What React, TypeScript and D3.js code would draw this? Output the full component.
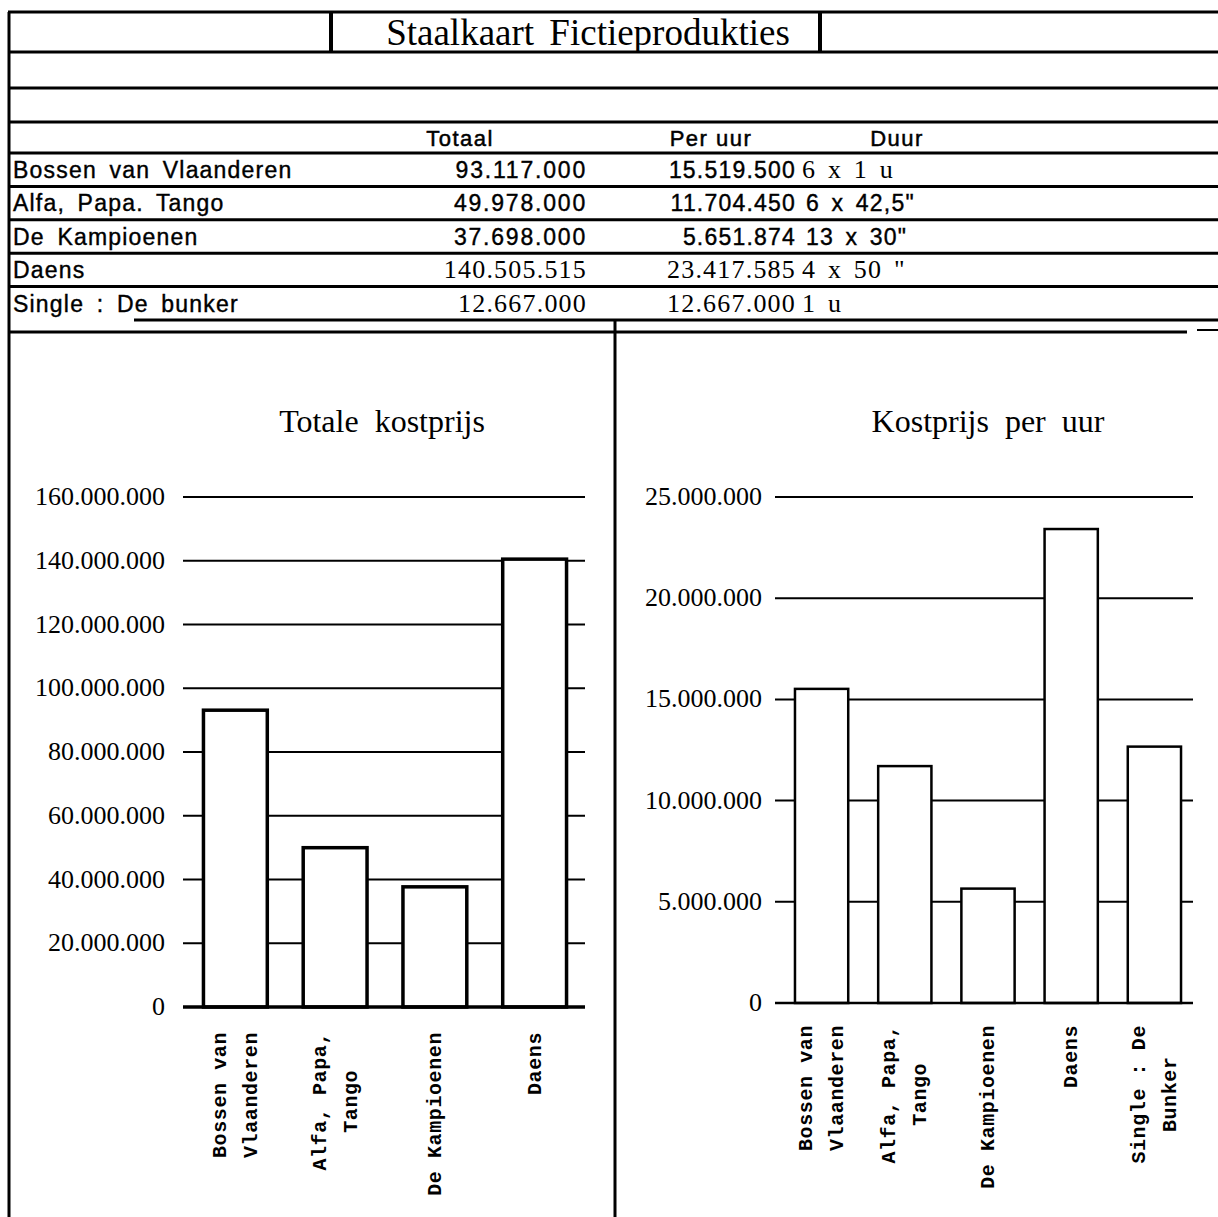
import * as d3 from "d3";
import { useEffect, useRef } from "react";

const W = 1218;
const H = 1217;

// table rows
const producties = ["Bossen van Vlaanderen", "Alfa, Papa. Tango", "De Kampioenen", "Daens", "Single : De bunker"];
const totaal = [93117000, 49978000, 37698000, 140505515, 12667000];
const perUur = [15519500, 11704450, 5651874, 23417585, 12667000];
const duur = ["6 x 1 u", "6 x 42,5\"", "13 x 30\"", "4 x 50 \"", "1 u"];

// chart categories
const totaalCats = ["Bossen van\nVlaanderen", "Alfa, Papa,\nTango", "De Kampioenen", "Daens"];
const totaalVals = [93117000, 49978000, 37698000, 140505515];
const uurCats = ["Bossen van\nVlaanderen", "Alfa, Papa,\nTango", "De Kampioenen", "Daens", "Single : De\nBunker"];
const uurVals = [15519500, 11704450, 5651874, 23417585, 12667000];

const totaalTicks = [0, 20000000, 40000000, 60000000, 80000000, 100000000, 120000000, 140000000, 160000000];
const uurTicks = [0, 5000000, 10000000, 15000000, 20000000, 25000000];

const SERIF = "'Liberation Serif', 'Times New Roman', serif";
const SANS = "'Liberation Sans', Arial, sans-serif";
const MONO = "'Liberation Mono', 'Courier New', monospace";

const fmt = d3
  .formatLocale({ decimal: ",", thousands: ".", grouping: [3], currency: ["", ""] })
  .format(",d");

export default function App() {
  const ref = useRef<SVGSVGElement>(null);

  useEffect(() => {
    if (!ref.current) return;
    const svg = d3.select(ref.current);
    svg.selectAll("*").remove();

    svg.append("rect").attr("width", W).attr("height", H).attr("fill", "#fff");

    const line = (x1: number, y1: number, x2: number, y2: number, w = 3) =>
      svg
        .append("line")
        .attr("x1", x1)
        .attr("y1", y1)
        .attr("x2", x2)
        .attr("y2", y2)
        .attr("stroke", "#000")
        .attr("stroke-width", w);

    // ---- frame + table ----
    line(9, 12, 9, H);
    line(8, 12, W, 12);
    line(331, 12, 331, 52, 4);
    line(820, 12, 820, 52, 4);

    svg
      .append("text")
      .attr("x", 588)
      .attr("y", 45)
      .attr("text-anchor", "middle")
      .style("font-family", SERIF)
      .style("font-size", "37px")
      .style("word-spacing", "6px")
      .text("Staalkaart Fictieprodukties");

    const rowH = 33.4;
    const headY = 153;
    [52, 88, 122, headY].forEach((y) => line(8, y, W, y));
    producties.forEach((_, i) => {
      const y = headY + rowH * (i + 1);
      if (i < producties.length - 1) line(8, y, W, y);
      else line(134, y, W, y);
    });
    line(8, 332, 1187, 332);
    line(1197, 330, W, 330, 2);
    line(615, 320, 615, H);

    const header = [
      { t: "Totaal", x: 460 },
      { t: "Per uur", x: 711 },
      { t: "Duur", x: 897 },
    ];
    svg
      .selectAll(".head")
      .data(header)
      .join("text")
      .attr("x", (d) => d.x)
      .attr("y", headY - 7)
      .attr("text-anchor", "middle")
      .style("font-family", SANS)
      .style("font-size", "22px")
      .style("letter-spacing", "1.5px")
      .style("stroke", "#000")
      .style("stroke-width", "0.5px")
      .text((d) => d.t);

    // rows printed by different machines: first three in sans, last two in serif
    const rowSerif = (i: number) => i >= 3;
    const rowY = (i: number) => headY + rowH * i + 25;
    const sansStyle = (sel: d3.Selection<SVGTextElement, unknown, null, undefined>, ls = 1.8) =>
      sel
        .style("font-family", SANS)
        .style("font-size", "23px")
        .style("letter-spacing", `${ls}px`)
        .style("stroke", "#000")
        .style("stroke-width", "0.4px");
    const serifStyle = (sel: d3.Selection<SVGTextElement, unknown, null, undefined>) =>
      sel.style("font-family", SERIF).style("font-size", "26px").style("letter-spacing", "1.2px");

    const rows = svg.append("g");
    producties.forEach((name, i) => {
      const n = rows
        .append("text")
        .attr("x", 13)
        .attr("y", rowY(i))
        .style("word-spacing", "5px")
        .text(name);
      sansStyle(n, 1.2);

      const t = rows
        .append("text")
        .attr("x", 587)
        .attr("y", rowY(i))
        .attr("text-anchor", "end")
        .text(fmt(totaal[i]));
      if (rowSerif(i)) serifStyle(t);
      else sansStyle(t);

      const p = rows
        .append("text")
        .attr("x", 796)
        .attr("y", rowY(i))
        .attr("text-anchor", "end")
        .text(fmt(perUur[i]));
      if (rowSerif(i)) serifStyle(p);
      else sansStyle(p, 1.2);

      const serifDuur = i === 0 || rowSerif(i);
      const d = rows
        .append("text")
        .attr("x", serifDuur ? 802 : 806)
        .attr("y", rowY(i))
        .style("word-spacing", "4px")
        .text(duur[i]);
      if (serifDuur) serifStyle(d);
      else sansStyle(d, 1.2);
    });

    // ---- bar charts ----
    const drawChart = (opts: {
      title: string;
      titleX: number;
      cats: string[];
      vals: number[];
      ticks: number[];
      y0: number;
      y1: number;
      gridX0: number;
      gridX1: number;
      bandX0: number;
      bandX1: number;
      labelX: number;
      barStroke: number;
      labelTop: number;
    }) => {
      const g = svg.append("g");
      const y = d3
        .scaleLinear()
        .domain([0, opts.ticks[opts.ticks.length - 1]])
        .range([opts.y0, opts.y1]);
      const x = d3
        .scaleBand()
        .domain(opts.cats)
        .range([opts.bandX0, opts.bandX1])
        .paddingInner(0.36)
        .paddingOuter(0.18);

      g.append("text")
        .attr("x", opts.titleX)
        .attr("y", 432)
        .attr("text-anchor", "middle")
        .style("font-family", SERIF)
        .style("font-size", "32px")
        .style("word-spacing", "8px")
        .text(opts.title);

      g.selectAll(".grid")
        .data(opts.ticks.slice(1))
        .join("line")
        .attr("x1", opts.gridX0)
        .attr("x2", opts.gridX1)
        .attr("y1", (d) => y(d))
        .attr("y2", (d) => y(d))
        .attr("stroke", "#000")
        .attr("stroke-width", 2);

      g.selectAll(".tick")
        .data(opts.ticks)
        .join("text")
        .attr("x", opts.labelX)
        .attr("y", (d) => y(d) + 8)
        .attr("text-anchor", "end")
        .style("font-family", SERIF)
        .style("font-size", "26px")
        .text((d) => fmt(d));

      g.selectAll(".bar")
        .data(opts.vals)
        .join("rect")
        .attr("x", (_, i) => x(opts.cats[i]) ?? 0)
        .attr("width", x.bandwidth())
        .attr("y", (d) => y(d))
        .attr("height", (d) => opts.y0 - y(d))
        .attr("fill", "#fff")
        .attr("stroke", "#000")
        .attr("stroke-width", opts.barStroke);

      g.append("line")
        .attr("x1", opts.gridX0)
        .attr("x2", opts.gridX1)
        .attr("y1", opts.y0)
        .attr("y2", opts.y0)
        .attr("stroke", "#000")
        .attr("stroke-width", opts.barStroke);

      const fs = 20;
      const cw = fs * 0.6 + 0.6;
      const lineGap = 31;
      opts.cats.forEach((c) => {
        const parts = c.split("\n");
        const longest = d3.max(parts, (p) => p.length) ?? 0;
        const cx = (x(c) ?? 0) + x.bandwidth() / 2;
        const cy = opts.labelTop + (longest * cw) / 2;
        parts.forEach((p, j) => {
          const lx = cx + (j - (parts.length - 1) / 2) * lineGap + fs * 0.3;
          g.append("text")
            .attr("transform", `translate(${lx},${cy}) rotate(-90)`)
            .attr("text-anchor", "middle")
            .style("font-family", MONO)
            .style("font-weight", "bold")
            .style("font-size", `${fs}px`)
            .style("letter-spacing", "0.6px")
            .text(p);
        });
      });
    };

    drawChart({
      title: "Totale kostprijs",
      titleX: 382,
      cats: totaalCats,
      vals: totaalVals,
      ticks: totaalTicks,
      y0: 1007,
      y1: 497,
      gridX0: 183,
      gridX1: 585,
      bandX0: 185.5,
      bandX1: 584.5,
      labelX: 165,
      barStroke: 3.5,
      labelTop: 1032,
    });

    drawChart({
      title: "Kostprijs per uur",
      titleX: 988,
      cats: uurCats,
      vals: uurVals,
      ticks: uurTicks,
      y0: 1003,
      y1: 497,
      gridX0: 775,
      gridX1: 1193,
      bandX0: 780,
      bandX1: 1196,
      labelX: 762,
      barStroke: 2.5,
      labelTop: 1025,
    });
  }, []);

  return (
    <svg
      ref={ref}
      width={W}
      height={H}
      style={{ position: "absolute", left: 0, top: 0, display: "block" }}
    />
  );
}
